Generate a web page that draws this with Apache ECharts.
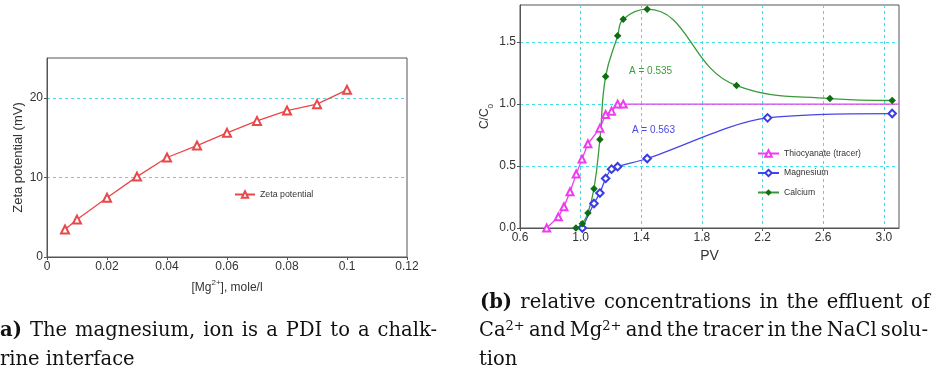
<!DOCTYPE html>
<html>
<head>
<meta charset="utf-8">
<script src="https://cdn.jsdelivr.net/npm/echarts@6/dist/echarts.min.js"></script>
<style>
  html, body { margin: 0; padding: 0; background: #fff; }
  #c { width: 932px; height: 371px; }
</style>
</head>
<body>
<div id="c"></div>
<script>
// (a) zeta potential against Mg2+ concentration
const mgConc = [0.006, 0.01, 0.02, 0.03, 0.04, 0.05, 0.06, 0.07, 0.08, 0.09, 0.1];
const zetaMv = [3.45, 4.7, 7.45, 10.1, 12.5, 14.0, 15.6, 17.1, 18.4, 19.2, 21.0];

// (b) relative effluent concentrations C/C0 against pore volumes
const tracerPV = [0.776, 0.853, 0.890, 0.930, 0.971, 1.009, 1.048, 1.127, 1.165, 1.204, 1.244, 1.281, 3.1];
const tracerC  = [0, 0.09, 0.172, 0.293, 0.435, 0.556, 0.68, 0.806, 0.916, 0.943, 1.0, 1.0, 1.0];
const magPV = [1.011, 1.088, 1.127, 1.165, 1.204, 1.244, 1.439, 2.233, 3.055];
const magC  = [0, 0.198, 0.282, 0.40, 0.475, 0.495, 0.561, 0.889, 0.924];
const calPV = [0.969, 1.011, 1.048, 1.088, 1.127, 1.165, 1.244, 1.281, 1.439, 2.028, 2.644, 3.055];
const calC  = [0, 0.035, 0.121, 0.317, 0.715, 1.223, 1.551, 1.685, 1.766, 1.150, 1.045, 1.029];

// area-ratio notes written on panel (b): [PV, C/C0, text, colour]
const areaNotes = [
  [1.319, 1.268, 'A = 0.535', '#3f9a3f'],
  [1.338, 0.793, 'A = 0.563', '#4a4ae0']
];

// captions under the panels
const captionA = ['*a)* The magnesium, ion is a PDI to a chalk-', 'rine interface'];
const captionB = ['*(b)* relative concentrations in the effluent of',
                  'Ca^2+ and Mg^2+ and the tracer in the NaCl solu-',
                  'tion'];

const SANS = '"Liberation Sans", Arial, sans-serif';
const GRIDCOL = '#44dde6';
const AXISCOL = '#555';

function pairs(xs, ys) { return xs.map((x, i) => [x, ys[i]]); }

const chart = echarts.init(document.getElementById('c'));

const axisCommon = {
  axisLine: { onZero: false, lineStyle: { color: AXISCOL, width: 1 } },
  axisTick: { show: true, length: 3, lineStyle: { color: AXISCOL } },
  axisLabel: { color: '#333', fontSize: 12, fontFamily: SANS, margin: 4, showMaxLabel: false },
  nameTextStyle: { color: '#333', fontFamily: SANS }
};
const dashed = { show: true, showMinLine: false, showMaxLine: false,
                 lineStyle: { color: GRIDCOL, type: [3, 3], width: 1 } };

const tracerData = pairs(tracerPV, tracerC).map((p, i) =>
  i === tracerPV.length - 1 ? { value: p, symbol: 'none' } : p);

chart.setOption({
  animation: false,
  grid: [
    { left: 47, top: 58, width: 360, height: 199, show: true, borderColor: AXISCOL, borderWidth: 1 },
    { left: 520, top: 5, width: 379, height: 223, show: true, borderColor: AXISCOL, borderWidth: 1 }
  ],
  xAxis: [
    Object.assign({}, axisCommon, {
      gridIndex: 0, type: 'value', min: 0, max: 0.12, interval: 0.02,
      axisLabel: Object.assign({}, axisCommon.axisLabel, { showMaxLabel: true }),
      splitLine: { show: false },
      name: '{a|[Mg}{s|2+}{a|], mole/l}', nameLocation: 'middle', nameGap: 22,
      nameTextStyle: { fontFamily: SANS, color: '#333',
        rich: { a: { fontSize: 12, fontFamily: SANS, color: '#333', verticalAlign: 'bottom', lineHeight: 15 },
                s: { fontSize: 8, fontFamily: SANS, color: '#333', verticalAlign: 'top', lineHeight: 15 } } }
    }),
    Object.assign({}, axisCommon, {
      gridIndex: 1, type: 'value', min: 0.6, max: 3.1, interval: 0.4,
      axisLabel: Object.assign({}, axisCommon.axisLabel, { formatter: v => v.toFixed(1) }),
      splitLine: dashed,
      name: 'PV', nameLocation: 'middle', nameGap: 18,
      nameTextStyle: { fontSize: 14, color: '#333', fontFamily: SANS }
    })
  ],
  yAxis: [
    Object.assign({}, axisCommon, {
      gridIndex: 0, type: 'value', min: 0, max: 25, interval: 10,
      splitLine: dashed,
      name: 'Zeta potential (mV)', nameLocation: 'middle', nameGap: 22,
      nameTextStyle: { fontSize: 13, color: '#333', fontFamily: SANS }
    }),
    Object.assign({}, axisCommon, {
      gridIndex: 1, type: 'value', min: 0, max: 1.8, interval: 0.5,
      axisLabel: Object.assign({}, axisCommon.axisLabel, { formatter: v => v.toFixed(1) }),
      splitLine: dashed,
      name: '{a|C/C}{s|0}', nameLocation: 'middle', nameGap: 25,
      nameTextStyle: { fontFamily: SANS, color: '#333',
        rich: { a: { fontSize: 12, fontFamily: SANS, color: '#333', verticalAlign: 'top', lineHeight: 16 },
                s: { fontSize: 8, fontFamily: SANS, color: '#333', verticalAlign: 'bottom', lineHeight: 16 } } }
    })
  ],
  legend: [
    { data: ['Zeta potential'], left: 234, top: 190, padding: 0, itemWidth: 20, itemHeight: 8,
      textStyle: { fontSize: 8.8, color: '#333', fontFamily: SANS } },
    { data: ['Thiocyanate (tracer)', 'Magnesium', 'Calcium'], orient: 'vertical',
      left: 757, top: 149, padding: 0, itemGap: 10.5, itemWidth: 21, itemHeight: 8,
      textStyle: { fontSize: 8.6, color: '#333', fontFamily: SANS } }
  ],
  series: [
    { name: 'Zeta potential', type: 'line', xAxisIndex: 0, yAxisIndex: 0,
      data: pairs(mgConc, zetaMv), symbol: 'emptyTriangle', symbolSize: 8,
      itemStyle: { color: '#e8484a', borderWidth: 1.2 },
      lineStyle: { color: '#e8484a', width: 1.3 } },
    { name: 'Thiocyanate (tracer)', type: 'line', xAxisIndex: 1, yAxisIndex: 1,
      data: tracerData, symbol: 'emptyTriangle', symbolSize: 7,
      itemStyle: { color: '#ee3cee', borderWidth: 1.2 },
      lineStyle: { color: '#ee3cee', width: 1.3 } },
    { name: 'Magnesium', type: 'line', xAxisIndex: 1, yAxisIndex: 1,
      data: pairs(magPV, magC), symbol: 'emptyDiamond', symbolSize: 7.5, smooth: 0.3,
      itemStyle: { color: '#3b3be6', borderWidth: 1.2 },
      lineStyle: { color: '#4646e6', width: 1.3 } },
    { name: 'Calcium', type: 'line', xAxisIndex: 1, yAxisIndex: 1,
      data: pairs(calPV, calC), symbol: 'diamond', symbolSize: 7.5, smooth: 0.45,
      itemStyle: { color: '#0d6e12' },
      lineStyle: { color: '#3a9a3a', width: 1.3 } }
  ]
});

// text graphics: area notes anchored in data space + justified captions
const graphics = [];
areaNotes.forEach(n => {
  const p = chart.convertToPixel({ gridIndex: 1 }, [n[0], n[1]]);
  graphics.push({ type: 'text', x: p[0], y: p[1], silent: true,
    style: { text: n[2], fill: n[3], font: '10px ' + SANS, verticalAlign: 'middle', align: 'left' } });
});

const CAP_FAMILY = '"DejaVu Serif"';
const CAP_SIZE = 19.5, SUP_SIZE = 13, SUP_RISE = 8;
const mctx = document.createElement('canvas').getContext('2d');
function capFont(bold, size) { return (bold ? 'bold ' : '') + size + 'px ' + CAP_FAMILY; }
function measure(str, bold, size) { mctx.font = capFont(bold, size); return mctx.measureText(str).width; }

function parseWord(word) {
  if (word.startsWith('*') && word.endsWith('*')) return [{ t: word.slice(1, -1), bold: true }];
  const k = word.indexOf('^');
  if (k >= 0) return [{ t: word.slice(0, k) }, { t: word.slice(k + 1), sup: true }];
  return [{ t: word }];
}
function wordWidth(runs) {
  return runs.reduce((s, r) => s + measure(r.t, r.bold, r.sup ? SUP_SIZE : CAP_SIZE), 0);
}
function placeLine(str, x0, x1, baseline, justify) {
  const words = str.split(' ').map(parseWord);
  const widths = words.map(wordWidth);
  const total = widths.reduce((a, b) => a + b, 0);
  const gap = justify && words.length > 1 ? (x1 - x0 - total) / (words.length - 1) : measure(' ', false, CAP_SIZE);
  let x = x0;
  words.forEach((runs, i) => {
    let rx = x;
    runs.forEach(r => {
      const size = r.sup ? SUP_SIZE : CAP_SIZE;
      graphics.push({ type: 'text', x: rx, y: baseline - (r.sup ? SUP_RISE : 0), silent: true,
        style: { text: r.t, font: capFont(r.bold, size), fill: '#111',
                 verticalAlign: 'bottom', align: 'left' } });
      rx += measure(r.t, r.bold, size);
    });
    x += widths[i] + gap;
  });
}
// 'bottom' aligns the em box; shift so glyph baselines land on the line positions
const DESC = 4.5;
placeLine(captionA[0], 0, 437, 336.5 + DESC, true);
placeLine(captionA[1], 0, 437, 365 + DESC, false);
placeLine(captionB[0], 480, 930, 308 + DESC, true);
placeLine(captionB[1], 479, 928, 336.5 + DESC, true);
placeLine(captionB[2], 479, 928, 365 + DESC, false);

chart.setOption({ graphic: graphics });
</script>
</body>
</html>
